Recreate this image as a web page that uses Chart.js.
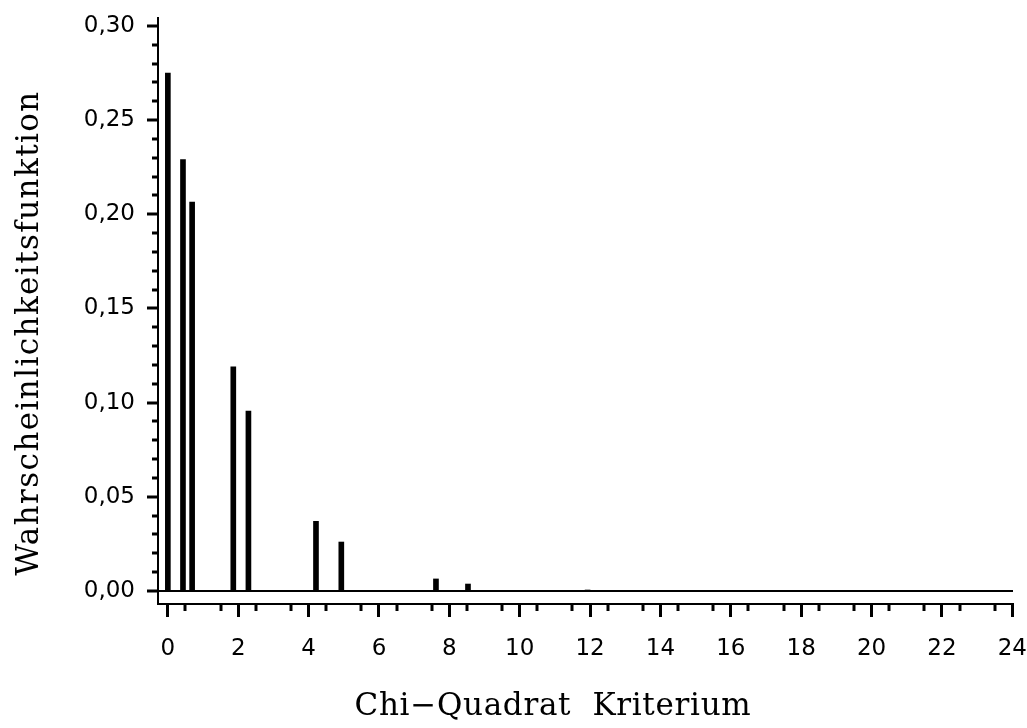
<!DOCTYPE html>
<html>
<head>
<meta charset="utf-8">
<script src="https://cdn.jsdelivr.net/npm/chart.js@4/dist/chart.umd.min.js"></script>
<style>
  html, body { margin: 0; padding: 0; background: #fff; }
  #wrap { width: 1027px; height: 728px; }
</style>
</head>
<body>
<div id="wrap"><canvas id="c" width="1027" height="728"></canvas></div>
<script>
// Chi-square criterion values (x) and their probabilities (y)
const chiValues = [0, 0.43, 0.69, 1.86, 2.29, 4.21, 4.93, 7.62, 8.53, 11.93];
const probabilities = [0.275, 0.229, 0.2065, 0.119, 0.0955, 0.037, 0.026, 0.0064, 0.0037, 0.0005];
const xTitle = 'Chi\u2212Quadrat  Kriterium';
const yTitle = 'Wahrscheinlichkeitsfunktion';

const points = chiValues.map((x, i) => ({ x: x, y: probabilities[i] }));

const extras = {
  id: 'extras',
  beforeDraw(chart) {
    const ctx = chart.ctx;
    ctx.save();
    ctx.fillStyle = '#fff';
    ctx.fillRect(0, 0, chart.width, chart.height);
    ctx.restore();
  },
  afterDraw(chart) {
    const ctx = chart.ctx;
    const xs = chart.scales.x, ys = chart.scales.y;
    const area = chart.chartArea;
    ctx.save();
    ctx.strokeStyle = '#000';
    ctx.lineWidth = 3;
    // minor y ticks every 0.01
    for (let k = 1; k <= 30; k++) {
      if (k % 5 === 0) continue;
      const py = Math.round(ys.getPixelForValue(k * 0.01));
      ctx.beginPath();
      ctx.moveTo(area.left - 6, py);
      ctx.lineTo(area.left, py);
      ctx.stroke();
    }
    // minor x ticks every 0.5
    for (let k = 1; k <= 48; k += 2) {
      const px = Math.round(xs.getPixelForValue(k * 0.5));
      ctx.beginPath();
      ctx.moveTo(px, area.bottom);
      ctx.lineTo(px, area.bottom + 7);
      ctx.stroke();
    }
    // axis titles
    ctx.fillStyle = '#000';
    ctx.font = '31px "DejaVu Serif"';
    ctx.textAlign = 'center';
    ctx.textBaseline = 'middle';
    ctx.letterSpacing = '0.7px';
    ctx.fillText(xTitle, 553, 707);
    ctx.letterSpacing = '1.4px';
    ctx.translate(30, 333);
    ctx.rotate(-Math.PI / 2);
    ctx.fillText(yTitle, 0, 0);
    ctx.restore();
  }
};

new Chart(document.getElementById('c'), {
  type: 'bar',
  data: {
    datasets: [{
      data: points,
      backgroundColor: '#000',
      borderWidth: 0,
      barThickness: 5
    }]
  },
  options: {
    responsive: false,
    animation: false,
    devicePixelRatio: 1,
    layout: { padding: { left: 0, top: 18, right: 14, bottom: 0 } },
    plugins: { legend: { display: false }, tooltip: { enabled: false } },
    scales: {
      x: {
        type: 'linear',
        offset: false,
        min: -0.28,
        max: 24.02,
        afterFit(s) { s.height = 124; s.paddingLeft = 0; s.paddingRight = 0; },
        ticks: {
          stepSize: 2,
          includeBounds: false,
          autoSkip: false,
          maxRotation: 0,
          color: '#000',
          padding: 18,
          font: { family: 'DejaVu Sans', size: 23 }
        },
        grid: { offset: false, drawOnChartArea: false, tickLength: 13, tickWidth: 3, tickColor: '#000' },
        border: { display: true, color: '#000', width: 2 }
      },
      y: {
        min: -0.0069,
        max: 0.3042,
        afterFit(s) { s.width = 158; s.paddingTop = 0; s.paddingBottom = 0; },
        ticks: {
          stepSize: 0.05,
          includeBounds: false,
          color: '#000',
          padding: 12,
          font: { family: 'DejaVu Sans', size: 23 },
          callback: v => v.toFixed(2).replace('.', ',')
        },
        grid: {
          drawOnChartArea: true,
          color: c => (c.tick && Math.abs(c.tick.value) < 1e-9) ? '#000' : 'rgba(0,0,0,0)',
          lineWidth: 2,
          tickLength: 11,
          tickWidth: 3,
          tickColor: '#000'
        },
        border: { display: true, color: '#000', width: 2 }
      }
    }
  },
  plugins: [extras]
});
</script>
</body>
</html>
